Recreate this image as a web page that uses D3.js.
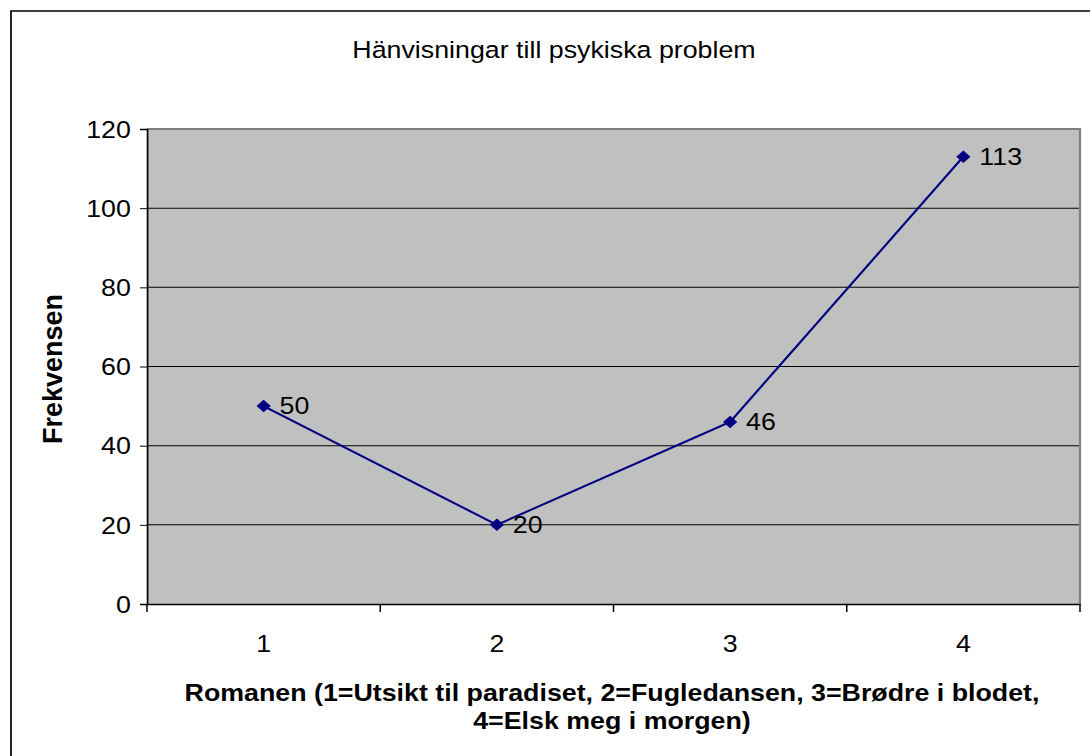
<!DOCTYPE html>
<html>
<head>
<meta charset="utf-8">
<script src="https://cdn.jsdelivr.net/npm/d3@7"></script>
<style>
  body { margin: 0; background: #fff; }
  svg { display: block; font-family: Arial, "Liberation Sans", sans-serif; }
</style>
</head>
<body>
<svg id="chart" width="1090" height="756"></svg>
<script>
const categories = [1, 2, 3, 4];
const values = [50, 20, 46, 113];
const yTicks = [0, 20, 40, 60, 80, 100, 120];
const chartTitle = "Hänvisningar till psykiska problem";
const yTitle = "Frekvensen";
const xTitleLines = ["Romanen (1=Utsikt til paradiset, 2=Fugledansen, 3=Brødre i blodet,", "4=Elsk meg i morgen)"];

const svg = d3.select("#chart");
// bildet er strekt horisontalt, så vi tegner i en smalere ramme og skalerer
const sx = 1.14;
const root = svg.append("g").attr("transform", `scale(${sx},1)`);

const plotLeft = 147 / sx, plotRight = 1080 / sx, plotTop = 129, plotBottom = 604;

// ytre ramme
root.append("rect")
    .attr("x", 11 / sx).attr("y", 11)
    .attr("width", 1200).attr("height", 900)
    .attr("fill", "white")
    .attr("stroke", "black")
    .attr("stroke-width", 1.5);

const x = d3.scaleBand().domain(categories).range([plotLeft, plotRight]);
const y = d3.scaleLinear().domain([0, 120]).range([plotBottom, plotTop]);

// plottområde
root.append("rect")
    .attr("x", plotLeft).attr("y", plotTop)
    .attr("width", plotRight - plotLeft).attr("height", plotBottom - plotTop)
    .attr("fill", "#c0c0c0");

// rutenett
root.selectAll(".grid").data(yTicks.slice(1, -1)).enter()
    .append("line")
    .attr("x1", plotLeft).attr("x2", plotRight)
    .attr("y1", d => y(d)).attr("y2", d => y(d))
    .attr("stroke", "black").attr("stroke-width", 1);

// grå kant øverst og til høyre
root.append("path")
    .attr("d", `M ${plotLeft} ${plotTop} H ${plotRight} V ${plotBottom}`)
    .attr("fill", "none").attr("stroke", "#808080").attr("stroke-width", 2);

// y-akse
const yAxis = root.append("g")
    .attr("transform", `translate(${plotLeft},0)`)
    .call(d3.axisLeft(y).tickValues(yTicks).tickSize(7 / sx).tickPadding(8));
yAxis.select(".domain").attr("stroke", "black").attr("stroke-width", 1.5);
yAxis.selectAll(".tick line").attr("stroke", "black");
yAxis.selectAll(".tick text")
    .attr("font-size", "23.5px").attr("fill", "black")
    .attr("font-family", "Arial, 'Liberation Sans', sans-serif")
    .attr("dy", "0.35em");

// x-akse
const xAxis = root.append("g")
    .attr("transform", `translate(0,${plotBottom})`)
    .call(d3.axisBottom(x).tickSize(0).tickPadding(31));
xAxis.select(".domain").attr("stroke", "black").attr("stroke-width", 1.5);
xAxis.selectAll(".tick text")
    .attr("font-size", "23.5px").attr("fill", "black")
    .attr("font-family", "Arial, 'Liberation Sans', sans-serif");
// skillestreker mellom kategoriene
const bounds = categories.map(c => x(c)).concat([plotRight]);
xAxis.selectAll(".sep").data(bounds).enter()
    .append("line")
    .attr("x1", d => d).attr("x2", d => d)
    .attr("y1", 0).attr("y2", 8)
    .attr("stroke", "black").attr("stroke-width", 1.5 / sx);

// linje
const cx = d => x(d) + x.bandwidth() / 2;
const line = d3.line().x((d, i) => cx(categories[i])).y(d => y(d));
root.append("path")
    .datum(values)
    .attr("d", line)
    .attr("fill", "none")
    .attr("stroke", "#000080")
    .attr("stroke-width", 2);

// markører
root.selectAll(".pt").data(values).enter()
    .append("path")
    .attr("d", d3.symbol().type(d3.symbolDiamond2).size(100))
    .attr("transform", (d, i) => `translate(${cx(categories[i])},${y(d)})`)
    .attr("fill", "#000080");

// dataetiketter
root.selectAll(".lbl").data(values).enter()
    .append("text")
    .attr("x", (d, i) => cx(categories[i]) + 16 / sx)
    .attr("y", d => y(d))
    .attr("dy", "0.35em")
    .attr("font-size", "23.5px")
    .text(d => d);

// tittel
root.append("text")
    .attr("x", 554 / sx).attr("y", 58)
    .attr("text-anchor", "middle")
    .attr("font-size", "23.5px")
    .text(chartTitle);

// y-tittel (utenfor skaleringen, ellers blir bokstavene for brede)
svg.append("text")
    .attr("transform", "translate(62,369) rotate(-90)")
    .attr("text-anchor", "middle")
    .attr("font-size", "27px")
    .attr("font-weight", "bold")
    .text(yTitle);

// x-tittel
root.selectAll(".xt").data(xTitleLines).enter()
    .append("text")
    .attr("x", 612 / sx)
    .attr("y", (d, i) => 701 + i * 28)
    .attr("text-anchor", "middle")
    .attr("font-size", "23.5px")
    .attr("font-weight", "bold")
    .text(d => d);
</script>
</body>
</html>
